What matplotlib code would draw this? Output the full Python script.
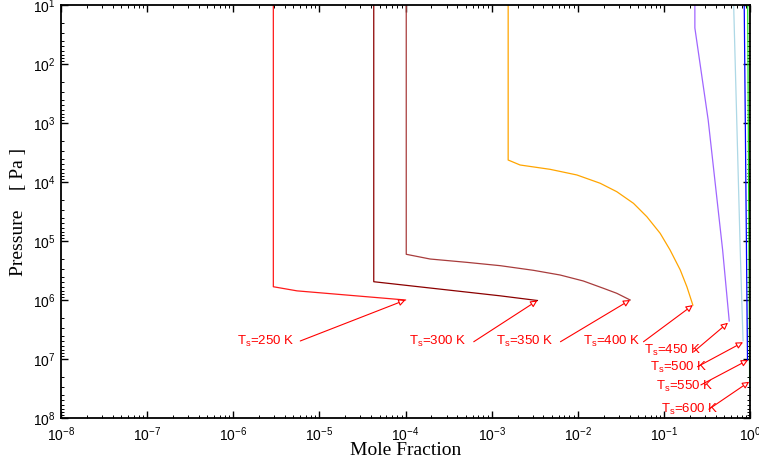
import matplotlib
matplotlib.use("Agg")
import matplotlib.pyplot as plt

plt.rcParams["font.family"] = ["Liberation Sans", "DejaVu Sans"]
plt.rcParams["mathtext.fontset"] = "custom"
plt.rcParams["mathtext.rm"] = "Liberation Sans"
plt.rcParams["mathtext.it"] = "Liberation Sans"

# surface temperatures and their profiles (mole fraction, pressure in Pa)
temps = [250, 300, 350, 400, 450, 500, 550, 600]
colors = ["#ff1a1a", "#8b0000", "#a83c3c", "#ffa500", "#a066ff", "#add8e6", "#0000ff", "#22dd22"]

x250 = [2.92e-6, 2.92e-6, 5.5e-6, 1.0e-4]
p250 = [10, 5.96e5, 7.0e5, 1.0e6]
x300 = [4.28e-5, 4.28e-5, 1.26e-3, 3.4e-3]
p300 = [10, 4.9e5, 8.5e5, 1.02e6]
x350 = [1.02e-4, 1.02e-4, 1.93e-4, 5.15e-4, 1.26e-3, 3.06e-3, 6.24e-3, 1.16e-2, 1.99e-2, 2.84e-2, 4.06e-2]
p350 = [10, 1.68e5, 2.02e5, 2.30e5, 2.62e5, 3.14e5, 3.77e5, 4.76e5, 6.34e5, 7.70e5, 1.0e6]
x400 = [1.556e-3, 1.556e-3, 2.14e-3, 4.78e-3, 9.77e-3, 1.82e-2, 2.84e-2, 4.44e-2, 6.34e-2,
        9.05e-2, 0.118, 0.155, 0.185, 0.217]
p400 = [10, 4.24e3, 5.15e3, 6.10e3, 7.60e3, 1.05e4, 1.46e4, 2.30e4, 3.87e4,
        7.40e4, 1.42e5, 3.10e5, 5.96e5, 1.22e6]
x450 = [0.229, 0.229, 0.327, 0.481, 0.574]
p450 = [10, 24.5, 891, 1.42e5, 2.27e6]
x500 = [0.646, 0.77, 0.83]
p500 = [10, 1.42e5, 4.9e6]
x550 = [0.857, 0.935]
p550 = [10, 1.05e7]
x600 = [0.94, 0.99]
p600 = [10, 2.4e7]
xs = [x250, x300, x350, x400, x450, x500, x550, x600]
ps = [p250, p300, p350, p400, p450, p500, p550, p600]

# label anchors and arrow ends
label_x = [1.11e-6, 1.11e-4, 1.11e-3, 1.15e-2, 5.8e-2, 6.9e-2, 8.1e-2, 9.2e-2]
label_p = [4.95e6, 4.95e6, 4.95e6, 4.95e6, 7.1e6, 1.41e7, 2.95e7, 7.1e7]
arrow_x0 = [6.0e-6, 6.2e-4, 6.3e-3, 5.8e-2, 0.223, 0.246, 0.269, 0.333]
arrow_p0 = [4.95e6, 5.1e6, 5.1e6, 5.1e6, 7.5e6, 1.35e7, 2.75e7, 7.1e7]
arrow_x1 = [1.0e-4, 3.4e-3, 4.06e-2, 0.217, 0.555, 0.83, 0.95, 0.98]
arrow_p1 = [1.0e6, 1.02e6, 1.0e6, 1.22e6, 2.43e6, 5.2e6, 1.04e7, 2.43e7]

fig = plt.figure(figsize=(7.59, 4.69), dpi=100)
ax = fig.add_axes([61 / 759, 1 - 418 / 469, 689 / 759, 413 / 469])

for x, p, c in zip(xs, ps, colors):
    ax.plot(x, p, color=c, lw=0.9)

for i, t in enumerate(temps):
    ax.text(label_x[i], label_p[i], r"T$_{\rm s}$=%d K" % t, color="red",
            fontsize=9.5, ha="left", va="center")
    ax.annotate("", xy=(arrow_x1[i], arrow_p1[i]), xytext=(arrow_x0[i], arrow_p0[i]),
                arrowprops=dict(arrowstyle="-|>", fc="white", ec="red", lw=0.8,
                                mutation_scale=10, shrinkA=0, shrinkB=0))

ax.set_xscale("log")
ax.set_yscale("log")
ax.set_xlim(1e-8, 1)
ax.set_ylim(1e8, 1e1)
ax.tick_params(which="both", direction="in", top=True, right=True, labelsize=10)
ax.tick_params(which="major", length=5, width=1)
ax.tick_params(which="minor", length=2.5, width=0.7)
ax.tick_params(axis="x", pad=5)
ax.tick_params(axis="y", pad=4)
for s in ax.spines.values():
    s.set_linewidth(1.3)

ax.set_xlabel("Mole Fraction", family=["Liberation Serif"], fontsize=14, labelpad=-1)
ax.set_ylabel("Pressure    [ Pa ]", family=["Liberation Serif"], fontsize=14, labelpad=4)

fig.savefig("out.png", dpi=100)
